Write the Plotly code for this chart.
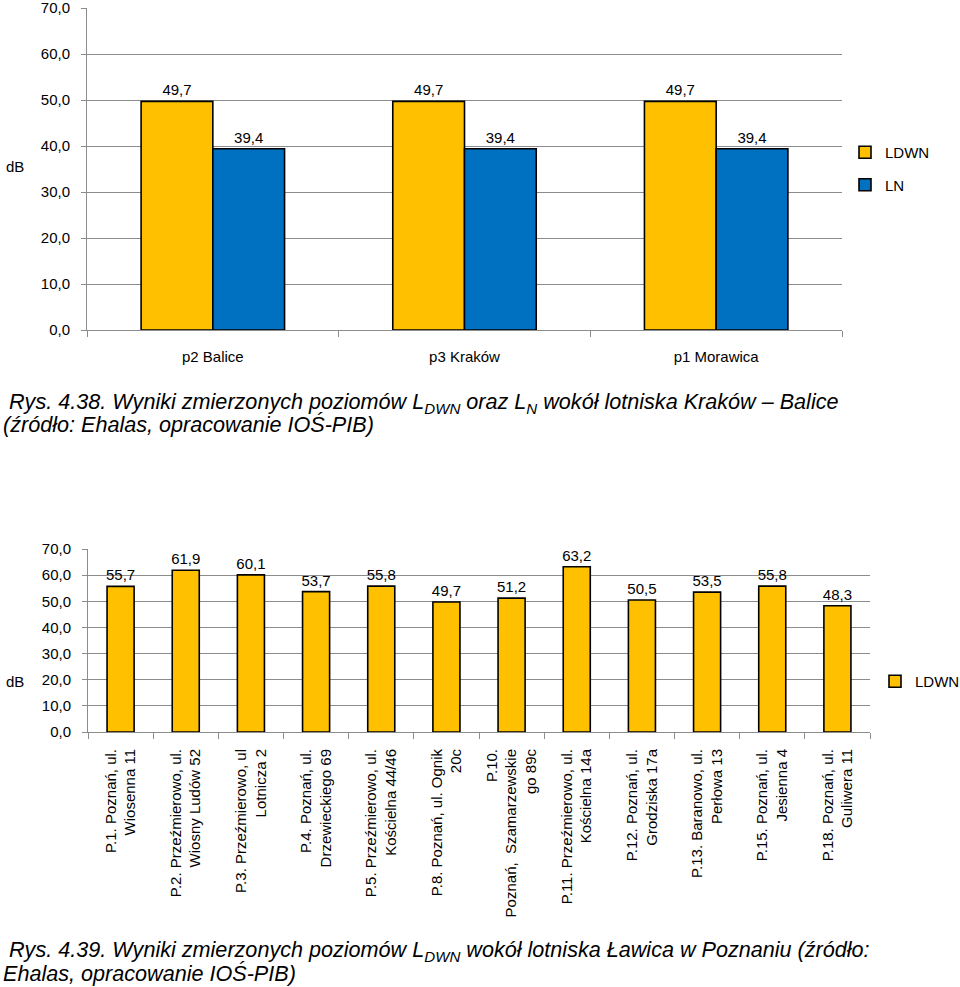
import plotly.graph_objects as go

# ---- data: chart 1 (Kraków – Balice) ----
sites1 = ["p2 Balice", "p3 Kraków", "p1 Morawica"]
ldwn1 = [49.7, 49.7, 49.7]
ln1 = [39.4, 39.4, 39.4]

# ---- data: chart 2 (Ławica, Poznań) ----
sites2 = [
    "P.1. Poznań, ul.<br>Wiosenna 11",
    "P.2. Przeźmierowo, ul.<br>Wiosny Ludów 52",
    "P.3. Przeźmierowo, ul<br>Lotnicza 2",
    "P.4. Poznań, ul.<br>Drzewieckiego 69",
    "P.5. Przeźmierowo, ul.<br>Kościelna 44/46",
    "P.8. Poznań, ul. Ognik<br>20c",
    "P.10.<br>Poznań,  Szamarzewskie<br>go 89c",
    "P.11. Przeźmierowo, ul.<br>Kościelna 14a",
    "P.12. Poznań, ul.<br>Grodziska 17a",
    "P.13. Baranowo, ul.<br>Perłowa 13",
    "P.15. Poznań, ul.<br>Jesienna 4",
    "P.18. Poznań, ul.<br>Guliwera 11",
]
ldwn2 = [55.7, 61.9, 60.1, 53.7, 55.8, 49.7, 51.2, 63.2, 50.5, 53.5, 55.8, 48.3]

y_ticks = [0, 10, 20, 30, 40, 50, 60, 70]

YELLOW = "#FFC000"
BLUE = "#0070C0"
GRID = "#8C8C8C"
FONT = "Liberation Sans"
CAPFONT = "Liberation Sans"

W, H = 960, 987
def px(x):
    return x / W
def py(y):
    return 1 - y / H

fig = go.Figure()

bar_common = dict(
    marker_line_color="black", marker_line_width=1.6,
    texttemplate="%{y:.1f}", textposition="outside",
    textfont=dict(size=15, color="black", family=FONT),
    cliponaxis=False, constraintext="none",
)

fig.add_trace(go.Bar(x=sites1, y=ldwn1, name="LDWN", marker_color=YELLOW,
                     xaxis="x", yaxis="y", legend="legend", legendgroup="a", **bar_common))
fig.add_trace(go.Bar(x=sites1, y=ln1, name="LN", marker_color=BLUE,
                     xaxis="x", yaxis="y", legend="legend", legendgroup="b", **bar_common))
fig.add_trace(go.Bar(x=sites2, y=ldwn2, name="LDWN", marker_color=YELLOW,
                     xaxis="x2", yaxis="y2", legend="legend2", width=0.415, **bar_common))

axis_font = dict(size=15, color="black", family=FONT)

yax_common = dict(
    range=[0, 70], tickvals=y_ticks, tickformat=".1f",
    showline=True, linecolor=GRID, linewidth=1,
    ticks="outside", ticklen=5, tickcolor=GRID,
    showgrid=True, gridcolor=GRID, gridwidth=1,
    tickfont=axis_font, zeroline=False, automargin=False,
    ticklabelstandoff=8, ticklabeloverflow="allow",
)

fig.update_layout(
    width=W, height=H,
    margin=dict(l=0, r=0, t=0, b=0, autoexpand=False),
    paper_bgcolor="white", plot_bgcolor="white",
    separators=", ",
    barmode="group",
    bargap=0.43, bargroupgap=0,
    showlegend=True,
    font=dict(family=FONT, color="black", size=15),
    xaxis=dict(domain=[px(87), px(842)], anchor="y", type="category",
               showline=True, linecolor=GRID, linewidth=1,
               ticks="outside", ticklen=6, tickcolor=GRID, tickson="boundaries",
               tickfont=axis_font, ticklabelstandoff=13, showgrid=False, automargin=False),
    yaxis=dict(domain=[py(330), py(8)], anchor="x", **yax_common),
    xaxis2=dict(domain=[px(88), px(870)], anchor="y2", type="category",
                showline=True, linecolor=GRID, linewidth=1,
                ticks="outside", ticklen=6, tickcolor=GRID, tickson="boundaries",
                tickangle=-90, tickfont=dict(size=15, color="black", family=FONT),
                ticklabelstandoff=10, showgrid=False, automargin=False),
    yaxis2=dict(domain=[py(732), py(549)], anchor="x2", **yax_common),
    legend=dict(x=px(845), y=py(136), xanchor="left", yanchor="top",
                traceorder="grouped", tracegroupgap=10,
                font=dict(size=15, color="black", family=FONT),
                bgcolor="rgba(0,0,0,0)", itemwidth=30),
    legend2=dict(x=px(875), y=py(665), xanchor="left", yanchor="top",
                 font=dict(size=15, color="black", family=FONT),
                 bgcolor="rgba(0,0,0,0)", itemwidth=30),
)

annots = [
    dict(text="dB", x=px(15), y=py(167)),
    dict(text="dB", x=px(15), y=py(681)),
]
for a in annots:
    fig.add_annotation(xref="paper", yref="paper", showarrow=False,
                       xanchor="center", yanchor="middle",
                       font=dict(size=15, color="black", family=FONT), **a)

captions = [
    (" Rys. 4.38. Wyniki zmierzonych poziomów L<sub>DWN</sub> oraz L<sub>N</sub> wokół lotniska Kraków – Balice", 403),
    ("(źródło: Ehalas, opracowanie IOŚ-PIB)", 425),
    (" Rys. 4.39. Wyniki zmierzonych poziomów L<sub>DWN</sub> wokół lotniska Ławica w Poznaniu (źródło:", 951),
    ("Ehalas, opracowanie IOŚ-PIB)", 973),
]
for text, yy in captions:
    fig.add_annotation(xref="paper", yref="paper", showarrow=False,
                       x=px(1), y=py(yy), xanchor="left", yanchor="middle",
                       text=f"<i>{text}</i>", align="left",
                       font=dict(size=21.6, color="black", family=CAPFONT))

fig.write_html("out.html",
               config={"displayModeBar": False},
               post_script="document.body.style.margin='0px';document.body.style.overflow='hidden';")
